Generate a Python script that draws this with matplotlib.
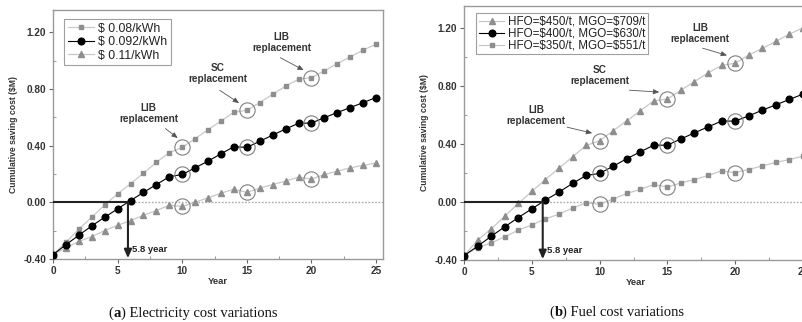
import matplotlib
matplotlib.use("Agg")
import matplotlib.pyplot as plt
from matplotlib.ticker import MultipleLocator, FormatStrFormatter
from matplotlib.offsetbox import TextArea, HPacker, AnnotationBbox

plt.rcParams["font.family"] = ["Liberation Sans", "DejaVu Sans"]
plt.rcParams["text.parse_math"] = False

years = list(range(26))

# (a) electricity price cases
elec_labels = ["$ 0.08/kWh", "$ 0.092/kWh", "$ 0.11/kWh"]
elec_008 = [-0.37, -0.283, -0.19, -0.106, -0.019, 0.059, 0.13, 0.205, 0.281, 0.35,
            0.387, 0.449, 0.512, 0.573, 0.635, 0.649, 0.703, 0.762, 0.819, 0.868,
            0.88, 0.927, 0.979, 1.026, 1.074, 1.116]
elec_0092 = [-0.37, -0.30, -0.233, -0.167, -0.106, -0.047, 0.012, 0.069, 0.125, 0.18,
             0.196, 0.243, 0.29, 0.342, 0.392, 0.387, 0.43, 0.474, 0.517, 0.557,
             0.559, 0.597, 0.633, 0.668, 0.703, 0.739]
elec_011 = [-0.37, -0.323, -0.276, -0.243, -0.20, -0.163, -0.13, -0.092, -0.059, -0.021,
            -0.03, 0.0, 0.031, 0.064, 0.092, 0.069, 0.099, 0.125, 0.149, 0.177,
            0.163, 0.196, 0.219, 0.243, 0.26, 0.276]

# (b) fuel price cases
fuel_labels = ["HFO=$450/t, MGO=$709/t", "HFO=$400/t, MGO=$630/t", "HFO=$350/t, MGO=$551/t"]
fuel_450 = [-0.37, -0.264, -0.186, -0.099, -0.011, 0.072, 0.154, 0.232, 0.31, 0.389,
            0.422, 0.49, 0.559, 0.628, 0.697, 0.709, 0.77, 0.83, 0.89, 0.941,
            0.956, 1.012, 1.058, 1.106, 1.157, 1.20]
fuel_400 = [-0.37, -0.306, -0.237, -0.172, -0.108, -0.048, 0.012, 0.067, 0.127, 0.182,
            0.196, 0.246, 0.297, 0.345, 0.391, 0.391, 0.434, 0.476, 0.517, 0.557,
            0.557, 0.593, 0.632, 0.669, 0.706, 0.743]
fuel_350 = [-0.37, -0.315, -0.283, -0.241, -0.195, -0.159, -0.117, -0.085, -0.043, -0.007,
            -0.016, 0.019, 0.058, 0.086, 0.12, 0.101, 0.131, 0.154, 0.182, 0.214,
            0.201, 0.223, 0.248, 0.272, 0.292, 0.315]

replacement_years = [10, 15, 20]
replacement_names = ["LIB\nreplacement", "SC\nreplacement", "LIB\nreplacement"]
payback_year = 5.8

GREY_MK = "#8e8e8e"
GREY_LN = "#c8c8c8"
SPINE = "#9a9a9a"


def draw_series(ax, ys, kind):
    if kind == "circle":
        ax.plot(years, ys, color="black", lw=0.8, marker="o", ms=4.8,
                mfc="black", mec="black", zorder=4)
    elif kind == "square":
        ax.plot(years, ys, color=GREY_LN, lw=0.9, marker="s", ms=3.5,
                mfc=GREY_MK, mec=GREY_MK, zorder=3)
    else:
        ax.plot(years, ys, color=GREY_LN, lw=0.9, marker="^", ms=4.5,
                mfc=GREY_MK, mec=GREY_MK, zorder=3)
    # rings around the component replacement years
    ax.plot(replacement_years, [ys[y] for y in replacement_years], ls="none",
            marker="o", ms=11, mfc="none", mec="#808080", mew=0.8, zorder=5)


def style_axes(ax, xmax, ymax):
    ax.set_xlim(0, xmax)
    ax.set_ylim(-0.40, ymax)
    ax.xaxis.set_major_locator(MultipleLocator(5))
    ax.xaxis.set_minor_locator(MultipleLocator(2.5))
    ax.yaxis.set_major_locator(MultipleLocator(0.4))
    ax.yaxis.set_minor_locator(MultipleLocator(0.2))
    ax.yaxis.set_major_formatter(FormatStrFormatter("%.2f"))
    for s in ax.spines.values():
        s.set_color(SPINE)
        s.set_linewidth(1.0)
    ax.tick_params(which="major", length=3, width=0.8, color="#666666",
                   labelsize=7.2, labelcolor="#333333", pad=2)
    ax.tick_params(which="minor", length=2, width=0.6, color="#888888", direction="in")
    for lab in ax.get_xticklabels() + ax.get_yticklabels():
        lab.set_fontweight("bold")
    ax.set_xlabel("Year", fontsize=6.8, fontweight="bold", color="#333333", labelpad=1)
    ax.set_ylabel("Cumulative saving cost ($M)", fontsize=6.2, fontweight="bold",
                  color="#333333", labelpad=4)


def draw_payback(ax, xmax):
    ax.plot([0, payback_year], [0, 0], color="#222222", lw=1.5, zorder=6, solid_capstyle="butt")
    ax.annotate("", xy=(payback_year, -0.395), xytext=(payback_year, 0.0),
                arrowprops=dict(arrowstyle="-|>,head_length=0.5,head_width=0.22",
                                color="#222222", lw=1.5, shrinkA=0, shrinkB=0), zorder=6)
    ax.plot([payback_year, xmax], [0, 0], color="#aaaaaa", lw=1.0, ls=(0, (1.2, 1.2)), zorder=1)
    ax.text(payback_year + 0.35, -0.335, f"{payback_year} year", fontsize=6.8,
            fontweight="bold", color="#222222", va="center", ha="left")


def draw_notes(ax, texts, starts, tips):
    for name, txt_xy, st, tp in zip(replacement_names, texts, starts, tips):
        ax.text(txt_xy[0], txt_xy[1], name, fontsize=7.2, fontweight="bold",
                color="#333333", ha="center", va="center", linespacing=1.15)
        ax.annotate("", xy=tp, xytext=st,
                    arrowprops=dict(arrowstyle="-|>,head_length=0.35,head_width=0.15",
                                    color="#555555", lw=0.6, shrinkA=0, shrinkB=0))


fig = plt.figure(figsize=(8.03, 3.22), dpi=100)

# ---- (a) Electricity cost variations
ax1 = fig.add_axes([0.066, 0.196, 0.411, 0.773])
draw_payback(ax1, 25.54)
draw_series(ax1, elec_008, "square")
draw_series(ax1, elec_0092, "circle")
draw_series(ax1, elec_011, "triangle")
style_axes(ax1, 25.54, 1.357)
draw_notes(ax1,
           texts=[(7.4, 0.628), (12.75, 0.91), (17.7, 1.13)],
           starts=[(8.7, 0.52), (12.9, 0.79), (17.6, 1.02)],
           tips=[(9.65, 0.453), (14.4, 0.70), (19.4, 0.932)])

h = [plt.Line2D([], [], color=GREY_LN, lw=0.9, marker="s", ms=3.5, mfc=GREY_MK, mec=GREY_MK),
     plt.Line2D([], [], color="black", lw=0.8, marker="o", ms=4.8),
     plt.Line2D([], [], color=GREY_LN, lw=0.9, marker="^", ms=4.5, mfc=GREY_MK, mec=GREY_MK)]
leg1 = ax1.legend(h, elec_labels, loc="upper left", bbox_to_anchor=(0.033, 0.964),
                  fontsize=8.8, frameon=True, fancybox=False, edgecolor="#888888",
                  handlelength=2.2, handletextpad=0.3, labelspacing=0.12,
                  borderpad=0.3, borderaxespad=0)
leg1.get_frame().set_linewidth(0.8)
for t in leg1.get_texts():
    t.set_color("#222222")

# ---- (b) Fuel cost variations
ax2 = fig.add_axes([0.578, 0.193, 0.4269, 0.788])
draw_payback(ax2, 25.3)
draw_series(ax2, fuel_450, "triangle")
draw_series(ax2, fuel_400, "circle")
draw_series(ax2, fuel_350, "square")
style_axes(ax2, 25.3, 1.35)
draw_notes(ax2,
           texts=[(5.3, 0.598), (10.0, 0.874), (17.4, 1.163)],
           starts=[(7.6, 0.515), (12.2, 0.77), (17.6, 1.06)],
           tips=[(9.45, 0.474), (14.4, 0.757), (19.4, 1.01)])

h2 = [h[2], h[1], h[0]]
leg2 = ax2.legend(h2, fuel_labels, loc="upper left", bbox_to_anchor=(0.035, 0.972),
                  fontsize=8.4, frameon=True, fancybox=False, edgecolor="#888888",
                  handlelength=2.2, handletextpad=0.3, labelspacing=0.0,
                  borderpad=0.22, borderaxespad=0)
leg2.get_frame().set_linewidth(0.8)
for t in leg2.get_texts():
    t.set_color("#222222")


# ---- panel captions with a bold panel letter
def caption(letter, rest, x, y):
    serif = ["Liberation Serif", "DejaVu Serif"]
    parts = [TextArea("(", textprops=dict(family=serif, size=10.5, color="#111111")),
             TextArea(letter, textprops=dict(family=serif, size=10.5, weight="bold", color="#111111")),
             TextArea(") " + rest, textprops=dict(family=serif, size=10.5, color="#111111"))]
    box = HPacker(children=parts, align="baseline", pad=0, sep=0)
    ab = AnnotationBbox(box, (x, y), xycoords="figure fraction", frameon=False,
                        box_alignment=(0.5, 0.5), pad=0)
    fig.add_artist(ab)


caption("a", "Electricity cost variations", 193 / 803, 1 - 313 / 322)
caption("b", "Fuel cost variations", 617 / 803, 1 - 312 / 322)

fig.savefig("out.png", dpi=100)
